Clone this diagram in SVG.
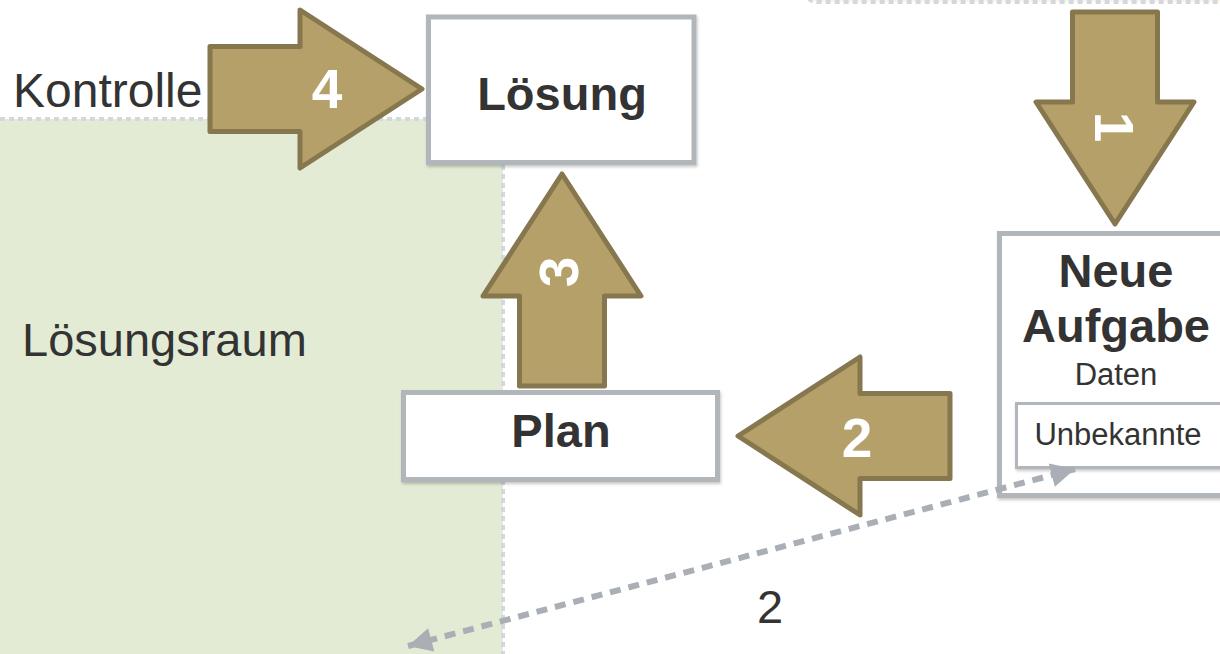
<svg xmlns="http://www.w3.org/2000/svg" width="1220" height="654" viewBox="0 0 1220 654">
  <style>
    .t { font-family: "Liberation Sans", Arial, Helvetica, sans-serif; fill: #333333; }
    .b { font-weight: bold; }
    .box { fill: #ffffff; stroke: #b1b6bb; stroke-width: 5; }
    .inner { fill: #ffffff; stroke: #b1b6bb; stroke-width: 3; }
    .region { stroke: #d3d8de; stroke-width: 4; stroke-dasharray: 5 4; fill: none; }
    .blk { fill: #b4a068; stroke: #86774e; stroke-width: 5; stroke-linejoin: round; }
    .num { font-family: "Liberation Sans", Arial, Helvetica, sans-serif; font-weight: bold; font-size: 55px; fill: #ffffff; text-anchor: middle; }
    .dash { stroke: #a9afb5; stroke-width: 6; stroke-dasharray: 11 8; fill: none; }
  </style>
  <defs>
    <path id="barrow" d="M0,-42.5 H90 V-79 L212,0 L90,79 V42.5 H0 Z"/>
    <marker id="ah" viewBox="0 0 10 10" refX="10" refY="5" markerUnits="userSpaceOnUse" markerWidth="28" markerHeight="24" orient="auto-start-reverse">
      <path d="M0,0 L10,5 L0,10 Z" fill="#a9afb5"/>
    </marker>
    <filter id="sh" x="-10%" y="-10%" width="120%" height="130%">
      <feDropShadow dx="1" dy="2" stdDeviation="1.5" flood-color="#000000" flood-opacity="0.22"/>
    </filter>
  </defs>

  <rect width="1220" height="654" fill="#ffffff"/>

  <!-- regions -->
  <g id="region-top">
    <path d="M806,-20 V-8 Q806,2 818,2 H1222 V-20 Z" fill="#fcf3ea"/>
    <path d="M806,-10 Q806,2 818,2 H1222" class="region"/>
  </g>
  <g id="region-loesungsraum">
    <rect x="-10" y="119" width="513" height="545" fill="#e3ebd5"/>
    <path d="M0,119 H503 V660" class="region"/>
    <text class="t" x="22" y="356" font-size="47">Lösungsraum</text>
  </g>

  <g id="label-kontrolle">
    <text class="t" x="13" y="107" font-size="48">Kontrolle</text>
  </g>

  <!-- nodes -->
  <g id="node-loesung">
    <rect class="box" x="428.5" y="17" width="265.5" height="145.5" filter="url(#sh)"/>
    <text class="t b" x="562" y="110" font-size="47" text-anchor="middle">Lösung</text>
  </g>
  <g id="node-plan">
    <rect class="box" x="403.5" y="392.5" width="314" height="87" filter="url(#sh)"/>
    <text class="t b" x="561" y="447" font-size="47" text-anchor="middle">Plan</text>
  </g>
  <g id="node-aufgabe">
    <rect class="box" x="999.5" y="233.5" width="250" height="262" filter="url(#sh)"/>
    <text class="t b" x="1116" y="287" font-size="47" text-anchor="middle">Neue</text>
    <text class="t b" x="1116" y="342" font-size="47" text-anchor="middle">Aufgabe</text>
    <text class="t" x="1116" y="385" font-size="31" text-anchor="middle">Daten</text>
  </g>
  <g id="node-unbekannte">
    <rect class="inner" x="1016.5" y="403.5" width="220" height="64" filter="url(#sh)"/>
    <text class="t" x="1118" y="445" font-size="31" text-anchor="middle">Unbekannte</text>
  </g>

  <!-- connectors -->
  <g id="connectors">
    <g id="arrow-1">
      <use href="#barrow" class="blk" transform="translate(1115,12) rotate(90)"/>
      <text class="num" transform="translate(1115,127) rotate(90)" x="0" y="20">1</text>
    </g>
    <g id="arrow-2">
      <use href="#barrow" class="blk" transform="translate(950,436) rotate(180)"/>
      <text class="num" x="857" y="457">2</text>
    </g>
    <g id="arrow-3">
      <use href="#barrow" class="blk" transform="translate(562,386) rotate(-90)"/>
      <text class="num" transform="translate(559,272) rotate(-90)" x="0" y="19">3</text>
    </g>
    <g id="arrow-4">
      <use href="#barrow" class="blk" transform="translate(210,89)"/>
      <text class="num" x="327" y="108">4</text>
    </g>
    <g id="link-2">
      <path class="dash" d="M408,646 L1075,469" marker-start="url(#ah)" marker-end="url(#ah)"/>
      <text class="t" x="770" y="623" font-size="47" text-anchor="middle">2</text>
    </g>
  </g>
</svg>
